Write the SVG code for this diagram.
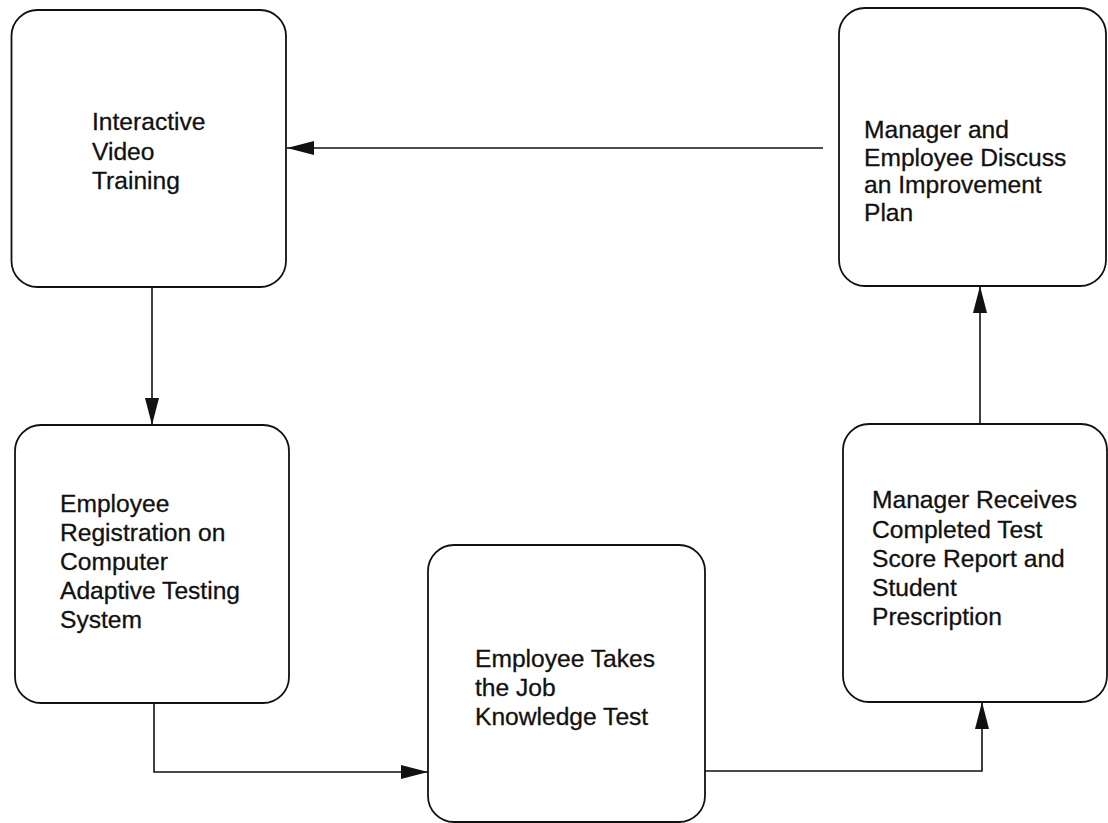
<svg xmlns="http://www.w3.org/2000/svg" width="1108" height="823" viewBox="0 0 1108 823">
<style>
.box{fill:#fff;stroke:#111;stroke-width:1.8}
.t{font-family:"Liberation Sans",Arial,sans-serif;font-size:24.6px;fill:#111;stroke:#111;stroke-width:0.3}
.c{fill:none;stroke:#111;stroke-width:1.6}
</style>
<defs>
<marker id="ah" viewBox="0 0 27 14" refX="27" refY="7" markerWidth="27" markerHeight="14" markerUnits="userSpaceOnUse" orient="auto">
<path d="M0,0 L27,7 L0,14 Z" fill="#111"/>
</marker>
</defs>
<rect width="1108" height="823" fill="#fff"/>
<g id="connectors">
<path class="c" d="M823,148 L287,148" marker-end="url(#ah)"/>
<path class="c" d="M152,287 L152,425" marker-end="url(#ah)"/>
<path class="c" d="M154,703 L154,772 L428,772" marker-end="url(#ah)"/>
<path class="c" d="M705,771 L982,771 L982,702" marker-end="url(#ah)"/>
<path class="c" d="M980,424 L980,286" marker-end="url(#ah)"/>
</g>
<g id="node1">
<rect class="box" x="11.5" y="10" width="274.5" height="277" rx="26"/>
<text class="t" x="92" y="130">Interactive</text>
<text class="t" x="92" y="159.5">Video</text>
<text class="t" x="92" y="189">Training</text>
</g>
<g id="node2">
<rect class="box" x="839" y="8" width="267" height="278" rx="26"/>
<text class="t" x="864" y="138">Manager and</text>
<text class="t" x="864" y="165.5">Employee Discuss</text>
<text class="t" x="864" y="193">an Improvement</text>
<text class="t" x="864" y="220.5">Plan</text>
</g>
<g id="node3">
<rect class="box" x="15" y="425" width="274" height="278" rx="26"/>
<text class="t" x="60" y="511.5">Employee</text>
<text class="t" x="60" y="540.5">Registration on</text>
<text class="t" x="60" y="569.5">Computer</text>
<text class="t" x="60" y="598.5">Adaptive Testing</text>
<text class="t" x="60" y="628">System</text>
</g>
<g id="node4">
<rect class="box" x="428" y="545" width="277" height="277" rx="26"/>
<text class="t" x="475" y="667">Employee Takes</text>
<text class="t" x="475" y="696">the Job</text>
<text class="t" x="475" y="725">Knowledge Test</text>
</g>
<g id="node5">
<rect class="box" x="843" y="424" width="264" height="278" rx="26"/>
<text class="t" x="872" y="508">Manager Receives</text>
<text class="t" x="872" y="537.5">Completed Test</text>
<text class="t" x="872" y="567">Score Report and</text>
<text class="t" x="872" y="596">Student</text>
<text class="t" x="872" y="625">Prescription</text>
</g>
</svg>
